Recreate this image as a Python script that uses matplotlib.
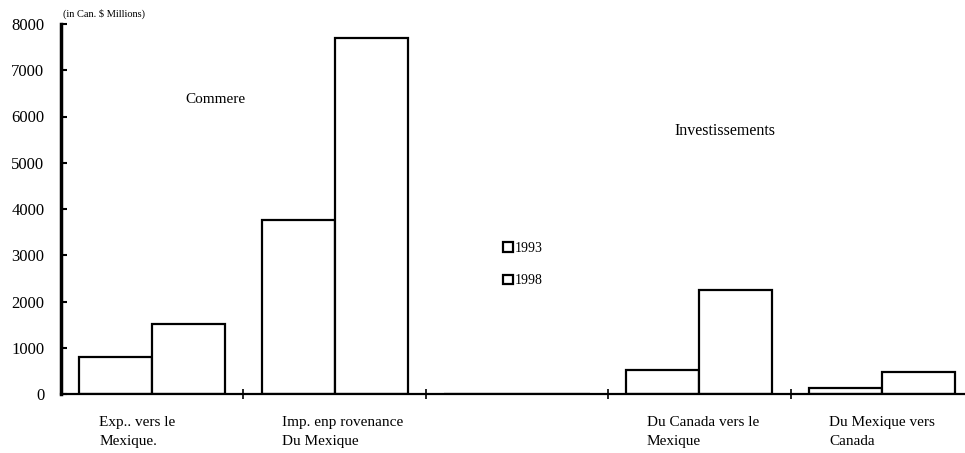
import matplotlib
matplotlib.use("Agg")
import matplotlib.pyplot as plt
import numpy as np

plt.rcParams['font.family'] = ['Liberation Serif', 'DejaVu Serif']

categories = ["Exp.. vers le\nMexique.",
              "Imp. enp rovenance\nDu Mexique",
              "",
              "Du Canada vers le\nMexique",
              "Du Mexique vers\nCanada"]
values_1993 = [800, 3760, 0, 520, 130]
values_1998 = [1520, 7700, 0, 2250, 480]
years = ["1993", "1998"]

fig = plt.figure(figsize=(9.65, 4.53), dpi=100)
# axes runs a little past the right edge, as in the original
ax = fig.add_axes([61 / 965, 1 - 394 / 453, 912 / 965, 370 / 453])

x = np.arange(len(categories))
w = 0.4
for off, vals, lab in [(-w / 2, values_1993, years[0]), (w / 2, values_1998, years[1])]:
    ax.bar(x + off, vals, w, facecolor="white", edgecolor="black",
           linewidth=1.6, label=lab)

ax.set_xlim(-0.5, len(categories) - 0.5)
ax.set_ylim(0, 8000)
ax.set_yticks(range(0, 8001, 1000))
ax.tick_params(axis="y", direction="in", length=4, width=1.5, pad=12,
               labelsize=12)
ax.set_xticks([])
ax.set_xticks(np.arange(0.5, len(categories) - 1, 1), minor=True)
ax.tick_params(axis="x", which="minor", direction="inout", length=7, width=1.2)

# category labels, left aligned a bit left of each group's centre
for xi, lab in zip(x, categories):
    ax.text(xi - 0.29, -0.06, lab, transform=ax.get_xaxis_transform(),
            fontsize=11, ha="left", va="top", linespacing=1.55)

for side in ["top", "right"]:
    ax.spines[side].set_visible(False)
ax.spines["left"].set_linewidth(2.5)
ax.spines["bottom"].set_linewidth(1.6)

ax.text(0.344, 6360, "Commere", fontsize=11, ha="center", va="center")
ax.text(3.14, 5690, "Investissements", fontsize=11.5, ha="center", va="center")

fig.text(63 / 965, 1 - 14 / 453, "(in Can. \\$ Millions)", fontsize=7.5,
         va="center")

ax.legend(loc="center left", bbox_to_anchor=(0.471, 0.35), frameon=False,
          fontsize=10, handlelength=0.7, handleheight=0.7, handletextpad=0.15,
          labelspacing=1.4)

fig.savefig("out.png", dpi=100)
